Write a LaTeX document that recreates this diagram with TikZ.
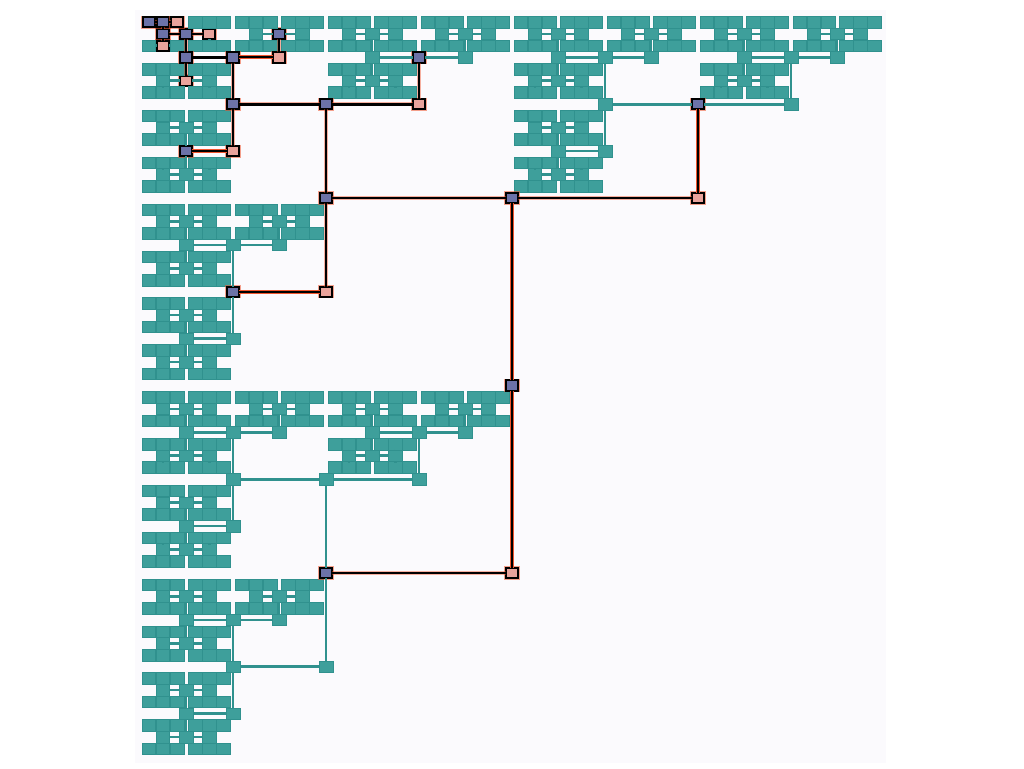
\documentclass[tikz,border=0pt]{standalone}
\definecolor{bgl}{HTML}{FBFAFD}
\definecolor{tealf}{HTML}{3E9F9B}
\definecolor{teald}{HTML}{30918E}
\definecolor{bluef}{HTML}{6C72A8}
\definecolor{pinkf}{HTML}{E9A39C}
\definecolor{glow}{HTML}{F0552E}
\tikzset{
  x=1pt,y=-1pt,
  nd/.style={rectangle,inner sep=0pt,outer sep=0pt,minimum width=13.8pt,minimum height=11.6pt,fill=tealf,draw=teald,line width=.5pt},
  hlb/.style={fill=bluef,draw=black,line width=2pt,minimum width=12.4pt,minimum height=10.2pt,preaction={draw=glow,draw opacity=.55,line width=3pt}},
  hlp/.style={fill=pinkf,draw=black,line width=2pt,minimum width=12.4pt,minimum height=10.2pt,preaction={draw=glow,draw opacity=.55,line width=3pt}},
  ed/.style={draw=teald,line width=2.6pt},
  hle/.style={draw=black,line width=2.6pt,preaction={draw=glow,draw opacity=.45,line width=3.6pt}},
  hlr/.style={draw=black,line width=2pt,preaction={draw=glow,line width=4pt}},
  % highlighted nodes
  nF-0-0-0-0-0/.style=hlb,nF-0-0-0-0-1/.style=hlp,
  nU-0-0-0-0/.style=hlb,nU-0-0-0-1/.style=hlp,
  nM-0-0-0/.style=hlb,nM-0-0-1/.style=hlp,
  nC-0-0/.style=hlb,nC-0-1/.style=hlp,nC-1-0/.style=hlb,
  nP-0-0/.style=hlb,nP-1-0/.style=hlp,nP-0-1/.style=hlb,
  nQ-0-0/.style=hlb,nQ-0-1/.style=hlp,nQ-1-0/.style=hlb,
  nR-0-0/.style=hlb,nR-1-0/.style=hlp,nR-0-1/.style=hlb,
  nS-0-0/.style=hlb,nS-0-1/.style=hlp,nS-1-0/.style=hlb,
  nT-0-0/.style=hlb,nT-1-0/.style=hlp,nT-0-1/.style=hlb,
  nV-0/.style=hlb,nV-1/.style=hlp,nRoot/.style=hlb,
  % highlighted edges, keyed by child node
  eF-0-0-0-0-0/.style=hle,eF-0-0-0-0-1/.style=hle,
  eU-0-0-0-0/.style=hle,eU-0-0-0-1/.style=hle,
  eM-0-0-0/.style=hle,eM-0-0-1/.style=hle,
  eC-0-0/.style=hle,eC-0-1/.style=hle,eC-1-0/.style=hle,
  eP-0-0/.style=hle,eP-1-0/.style=hlr,eP-0-1/.style=hlr,
  eQ-0-0/.style=hle,eQ-0-1/.style=hle,eQ-1-0/.style=hle,
  eR-0-0/.style=hle,eR-1-0/.style=hle,eR-0-1/.style=hlr,
  eS-0-0/.style=hle,eS-0-1/.style=hle,eS-1-0/.style=hlr,
  eT-0-0/.style=hle,eT-1-0/.style=hle,eT-0-1/.style=hle,
  eV-0/.style=hlr,eV-1/.style=hlr
}
\def\celllist{0/0,0/1,0/2,0/3,0/4,0/5,0/6,0/7,0/8,0/9,0/10,0/11,0/12,0/13,0/14,0/15,1/0,1/4,1/8,1/12,2/0,2/1,2/8,2/9,3/0,3/8,4/0,4/1,4/2,4/3,5/0,6/0,6/1,7/0}
\def\pairlist{0/0,0/1,0/2,0/3,0/4,0/5,0/6,0/7,1/0,1/2,1/4,1/6,2/0,2/4,3/0,3/4,4/0,4/1,5/0,6/0,7/0}
\def\quadlist{0/0,0/1,0/2,0/3,0/4,0/5,0/6,0/7,1/0,1/4,2/0,2/1,3/0}
\def\rlist{0/0,0/1,0/2,0/3,1/0,1/2,2/0,3/0}
\def\slist{0/0,0/1,0/2,0/3,1/0}
\def\tlist{0/0,0/1,1/0}
\newcommand{\placenode}[3]{\node[nd,n#1/.try] (#1) at (#2,#3) {};}
\newcommand{\linkto}[2]{\draw[ed,e#2/.try] (#1) -- (#2);}
\begin{document}
\begin{tikzpicture}
\useasboundingbox (0,0) rectangle (1024,768);
\fill[bgl] (135,10) rectangle (886,763);
% ---- nodes ----
\foreach \c/\j in \celllist {
  \pgfmathsetmacro{\cx}{186+93*\c}
  \pgfmathsetmacro{\cy}{33.9+46.875*\j}
  \placenode{C-\c-\j}{\cx}{\cy}
  \foreach \a in {0,1} {
    \pgfmathsetmacro{\mx}{\cx+(2*\a-1)*23.2}
    \placenode{M-\c-\j-\a}{\mx}{\cy}
    \foreach \b in {0,1} {
      \pgfmathsetmacro{\uy}{\cy+(2*\b-1)*11.72}
      \placenode{U-\c-\j-\a-\b}{\mx}{\uy}
      \foreach \d in {0,1} {
        \pgfmathsetmacro{\fx}{\mx+(2*\d-1)*14.1}
        \placenode{F-\c-\j-\a-\b-\d}{\fx}{\uy}
      }
    }
  }
}
\foreach \c/\m in \pairlist {
  \pgfmathsetmacro{\px}{186+93*\c}
  \pgfmathsetmacro{\py}{57.4+93.75*\m}
  \placenode{P-\c-\m}{\px}{\py}
}
\foreach \k/\m in \quadlist {
  \pgfmathsetmacro{\px}{233+186*\k}
  \pgfmathsetmacro{\py}{57.4+93.75*\m}
  \placenode{Q-\k-\m}{\px}{\py}
}
\foreach \k/\n in \rlist {
  \pgfmathsetmacro{\px}{233+186*\k}
  \pgfmathsetmacro{\py}{104.25+187.5*\n}
  \placenode{R-\k-\n}{\px}{\py}
}
\foreach \l/\n in \slist {
  \pgfmathsetmacro{\px}{326+372*\l}
  \pgfmathsetmacro{\py}{104.25+187.5*\n}
  \placenode{S-\l-\n}{\px}{\py}
}
\foreach \l/\p in \tlist {
  \pgfmathsetmacro{\px}{326+372*\l}
  \pgfmathsetmacro{\py}{198+375*\p}
  \placenode{T-\l-\p}{\px}{\py}
}
\foreach \p in {0,1} {
  \pgfmathsetmacro{\py}{198+375*\p}
  \placenode{V-\p}{512}{\py}
}
\placenode{Root}{512}{385.5}
% ---- connectors ----
\foreach \c/\j in \celllist {
  \pgfmathtruncatemacro{\m}{\j/2}
  \linkto{P-\c-\m}{C-\c-\j}
  \foreach \a in {0,1} {
    \linkto{C-\c-\j}{M-\c-\j-\a}
    \foreach \b in {0,1} {
      \linkto{M-\c-\j-\a}{U-\c-\j-\a-\b}
      \foreach \d in {0,1} {
        \linkto{U-\c-\j-\a-\b}{F-\c-\j-\a-\b-\d}
      }
    }
  }
}
\foreach \c/\m in \pairlist {
  \pgfmathtruncatemacro{\k}{\c/2}
  \linkto{Q-\k-\m}{P-\c-\m}
}
\foreach \k/\m in \quadlist {
  \pgfmathtruncatemacro{\n}{\m/2}
  \linkto{R-\k-\n}{Q-\k-\m}
}
\foreach \k/\n in \rlist {
  \pgfmathtruncatemacro{\l}{\k/2}
  \linkto{S-\l-\n}{R-\k-\n}
}
\foreach \l/\n in \slist {
  \pgfmathtruncatemacro{\p}{\n/2}
  \linkto{T-\l-\p}{S-\l-\n}
}
\foreach \l/\p in \tlist {
  \linkto{V-\p}{T-\l-\p}
}
\foreach \p in {0,1} {
  \linkto{Root}{V-\p}
}
\end{tikzpicture}
\end{document}
